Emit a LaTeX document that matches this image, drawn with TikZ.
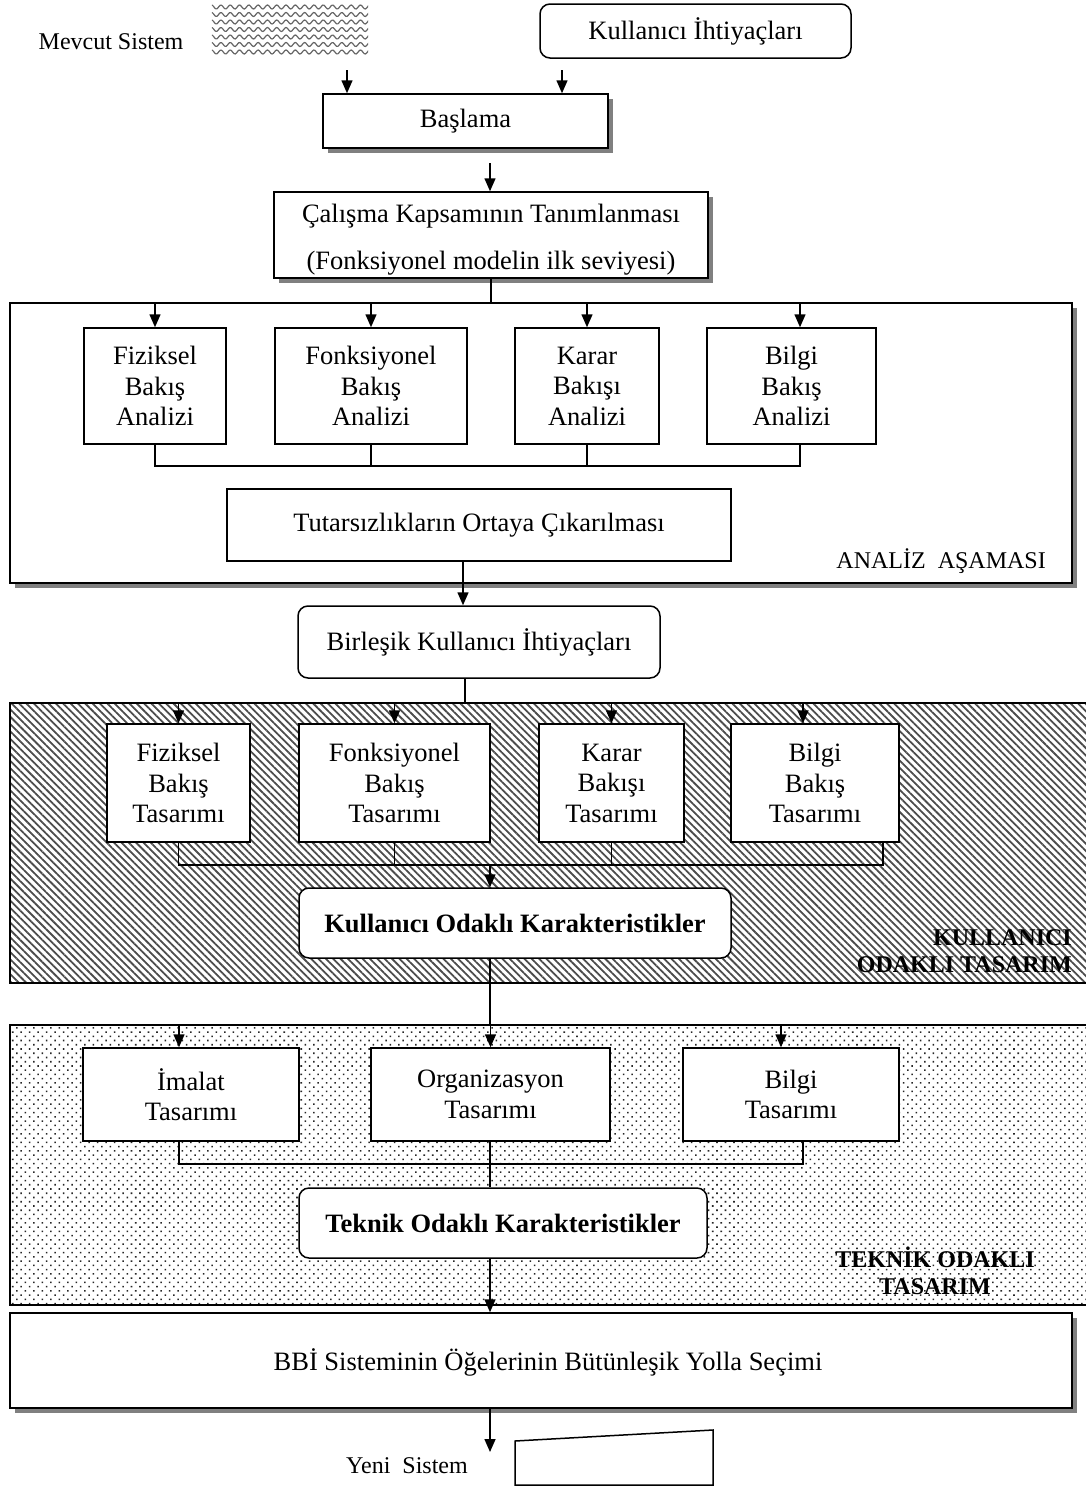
\documentclass[tikz,border=0pt]{standalone}
\usepackage{fontspec}
\setmainfont{Liberation Serif}
\usetikzlibrary{arrows.meta,patterns.meta,shadows,calc}
\begin{document}
\begin{tikzpicture}[x=1pt,y=-1pt,
  every node/.style={font=\fontsize{26.5}{30.5}\selectfont},
  box/.style={draw, line width=1.5pt, fill=white, inner sep=0pt, align=center},
  rbox/.style={box, rounded corners=10pt},
  shad/.style={drop shadow={shadow xshift=5pt, shadow yshift=-5pt, fill=black!50, opacity=1}},
  conn/.style={line width=1.5pt},
  arr/.style={conn, -{Triangle[length=13pt,width=11pt]}},
  lbl/.style={font=\fontsize{24}{28}\selectfont, align=right, inner sep=0pt},
  blbl/.style={font=\bfseries\fontsize{24}{26.5}\selectfont, inner sep=0pt},
  hatchreg/.style={draw, line width=1.5pt, inner sep=0pt,
    pattern={Lines[angle=-45,distance=5.2pt,line width=1.8pt]}, pattern color=black!70},
  dotreg/.style={draw, line width=1.5pt, inner sep=0pt,
    pattern={Dots[distance=6pt,angle=45,radius=1.1pt]}, pattern color=black!85},
]
\useasboundingbox (0,0) rectangle (1086,1486);

% ---------- top ----------
\node[lbl] (mevtxt) at (111,42) {Mevcut Sistem};
\node[inner sep=0pt, minimum width=156pt, minimum height=53pt] (mevcut) at (290,30.5) {};
\begin{scope}
  \clip (mevcut.south west) rectangle (mevcut.north east);
  \foreach \yy in {7,14.5,...,58}
    \draw[black!60, line width=1.2pt] plot[domain=210:370, samples=140] (\x, {\yy + 2*sin(\x*38.7)});
\end{scope}
\node[rbox, minimum width=311pt, minimum height=54pt] (kih) at (695.5,31) {Kullanıcı İhtiyaçları};

\node[box, shad, minimum width=285pt, minimum height=54pt] (basl) at (465.5,121) {Başlama};
\coordinate (s1) at (347,70);
\coordinate (s2) at (562,70);
\draw[arr] (s1) -- (s1 |- basl.north);
\draw[arr] (s2) -- (s2 |- basl.north);

\node[box, shad, minimum width=434pt, minimum height=86pt] (cal) at (491,235) {};
\node[inner sep=0pt, align=center, font=\fontsize{26.5}{47}\selectfont] (caltxt) at (491,240)
  {Çalışma Kapsamının Tanımlanması\\(Fonksiyonel modelin ilk seviyesi)};
\coordinate (s3) at (490,163);
\draw[arr] (s3) -- (s3 |- cal.north);

% ---------- analysis ----------
\node[box, shad, minimum width=1062pt, minimum height=280pt] (anreg) at (541,443) {};
\draw[conn] (cal.south) -- (cal.south |- anreg.north);
\node[lbl, anchor=east] (anlbl) at (1046,561) {ANALİZ~~AŞAMASI};

\node[box, minimum width=142pt, minimum height=116pt] (fa) at (155,386) {Fiziksel\\Bakış\\Analizi};
\node[box, minimum width=192pt, minimum height=116pt] (foa) at (371,386) {Fonksiyonel\\Bakış\\Analizi};
\node[box, minimum width=144pt, minimum height=116pt] (ka) at (587,386) {Karar\\Bakışı\\Analizi};
\node[box, minimum width=169pt, minimum height=116pt] (ba) at (791.5,386) {Bilgi\\Bakış\\Analizi};
\draw[arr] (fa.north |- anreg.north) -- (fa.north);
\draw[arr] (foa.north |- anreg.north) -- (foa.north);
\draw[arr] (ka.north |- anreg.north) -- (ka.north);
\draw[arr] ([xshift=8.5pt]ba.north |- anreg.north) -- ([xshift=8.5pt]ba.north);
\coordinate (ja) at (0,466);
\draw[conn] (fa.south) -- (fa.south |- ja) -- ([xshift=8.5pt]ba.south |- ja) -- ([xshift=8.5pt]ba.south);
\draw[conn] (foa.south) -- (foa.south |- ja);
\draw[conn] (ka.south) -- (ka.south |- ja);

\node[box, minimum width=504pt, minimum height=72pt] (tut) at (479,525) {Tutarsızlıkların Ortaya Çıkarılması};

\node[rbox, minimum width=362pt, minimum height=72pt] (bki) at (479,642) {Birleşik Kullanıcı İhtiyaçları};
\coordinate (s4) at (463,0);
\draw[arr] (tut.south -| s4) -- (bki.north -| s4);

% ---------- user-oriented design ----------
\node[hatchreg, minimum width=1080pt, minimum height=280pt] (kreg) at (550,843) {};
\coordinate (s5) at (465,0);
\draw[conn] (bki.south -| s5) -- (kreg.north -| s5);
\node[blbl, anchor=east, align=right] (klbl) at (1072,951) {KULLANICI\\ODAKLI TASARIM};

\node[box, minimum width=143pt, minimum height=118pt] (fd) at (178.5,783) {Fiziksel\\Bakış\\Tasarımı};
\node[box, minimum width=191pt, minimum height=118pt] (fod) at (394.5,783) {Fonksiyonel\\Bakış\\Tasarımı};
\node[box, minimum width=145pt, minimum height=118pt] (kd) at (611.5,783) {Karar\\Bakışı\\Tasarımı};
\node[box, minimum width=168pt, minimum height=118pt] (bd) at (815,783) {Bilgi\\Bakış\\Tasarımı};
\draw[arr] (fd.north |- kreg.north) -- (fd.north);
\draw[arr] (fod.north |- kreg.north) -- (fod.north);
\draw[arr] (kd.north |- kreg.north) -- (kd.north);
\draw[arr] ([xshift=-12pt]bd.north |- kreg.north) -- ([xshift=-12pt]bd.north);
\coordinate (jd) at (0,865);
\draw[conn] (fd.south) -- (fd.south |- jd) -- ([xshift=68pt]bd.south |- jd) -- ([xshift=68pt]bd.south);
\draw[conn] (fod.south) -- (fod.south |- jd);
\draw[conn] (kd.south) -- (kd.south |- jd);

\node[rbox, minimum width=432pt, minimum height=70pt, font=\bfseries\fontsize{26.5}{30.5}\selectfont] (kok) at (515,923)
  {Kullanıcı Odaklı Karakteristikler};
\coordinate (c490) at (490,0);
\draw[arr] (jd -| c490) -- (kok.north -| c490);

% ---------- technical design ----------
\node[dotreg, minimum width=1080pt, minimum height=280pt] (treg) at (550,1165) {};
\draw[conn] (kok.south -| c490) -- (treg.north -| c490);
\node[blbl, align=center] (tlbl) at (935,1271) {TEKNİK ODAKLI\\TASARIM};

\node[box, minimum width=216pt, minimum height=93pt] (im) at (191,1094.5) {İmalat\\Tasarımı};
\node[box, minimum width=239pt, minimum height=93pt] (org) at (490.5,1094.5) {Organizasyon\\Tasarımı};
\node[box, minimum width=216pt, minimum height=93pt] (bt) at (791,1094.5) {Bilgi\\Tasarımı};
\draw[arr] ([xshift=-12pt]im.north |- treg.north) -- ([xshift=-12pt]im.north);
\draw[arr] (org.north |- treg.north) -- (org.north);
\draw[arr] ([xshift=-10pt]bt.north |- treg.north) -- ([xshift=-10pt]bt.north);

\node[rbox, minimum width=408pt, minimum height=70pt, font=\bfseries\fontsize{26.5}{30.5}\selectfont] (tk) at (503,1223)
  {Teknik Odaklı Karakteristikler};
\coordinate (jt) at (0,1164);
\draw[conn] ([xshift=-12pt]im.south) -- ([xshift=-12pt]im.south |- jt) -- ([xshift=12pt]bt.south |- jt) -- ([xshift=12pt]bt.south);
\draw[conn] (org.south -| c490) -- (tk.north -| c490);

% ---------- bottom ----------
\node[box, shad, minimum width=1062pt, minimum height=95pt] (bbi) at (541,1360.5) {};
\node[inner sep=0pt] (bbit) at (548,1362) {BBİ Sisteminin Öğelerinin Bütünleşik Yolla Seçimi};
\draw[arr] (tk.south -| c490) -- (bbi.north -| c490);

\coordinate (s6) at (490,1452);
\draw[arr] (bbi.south -| c490) -- (s6);
\node[lbl] (yeni) at (407,1466) {Yeni~~Sistem};
\draw[line width=1.5pt] (515,1441) -- (713,1430) -- (713,1485) -- (515,1485) -- cycle;
\end{tikzpicture}
\end{document}
